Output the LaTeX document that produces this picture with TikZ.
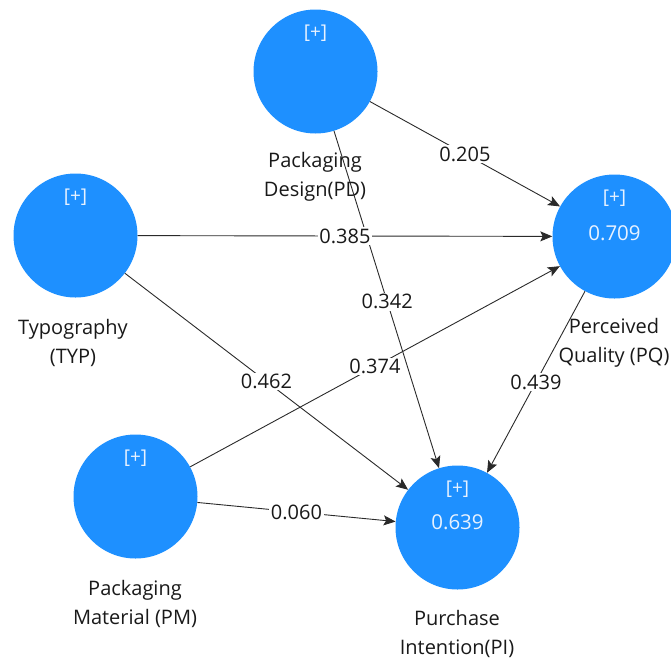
\documentclass[tikz,border=0pt]{standalone}
\usepackage{fontspec}
\setmainfont{Open Sans}
\usetikzlibrary{calc,arrows.meta}
\definecolor{lvblue}{HTML}{1E90FF}
\definecolor{edgec}{HTML}{2A2A2A}
\definecolor{innertxt}{HTML}{E8F2FF}
\begin{document}
\begin{tikzpicture}[x=1pt,y=-1pt,
  lv/.style={circle,fill=lvblue,minimum size=124pt,inner sep=0pt},
  plusmark/.style={text=innertxt,font=\fontsize{19}{22}\selectfont,inner sep=0pt},
  rsq/.style={text=innertxt,font=\fontsize{20.5}{24}\selectfont,inner sep=0pt},
  lvlabel/.style={align=center,text=black!90,font=\fontsize{20}{29.5}\selectfont,inner sep=0pt},
  relpath/.style={draw=edgec,line width=0.9pt,-{Stealth[length=12pt,width=10pt,inset=2.5pt]}},
  coef/.style={fill=white,text=black!90,font=\fontsize{20}{24}\selectfont,inner sep=1.5pt}]
\useasboundingbox (0,0) rectangle (671,659);
% latent variables
\node[lv] (PD) at (315.5,71.5) {};
\node[lv] (TYP) at (75.5,235.5) {};
\node[lv] (PM) at (135.5,496.5) {};
\node[lv] (PQ) at (614.5,236.5) {};
\node[lv] (PI) at (457.5,527.5) {};
% inner texts
\node[plusmark] (PDp) at ($(PD)+(0,-38)$) {[+]};
\node[plusmark] (TYPp) at ($(TYP)+(0,-38)$) {[+]};
\node[plusmark] (PMp) at ($(PM)+(0,-38)$) {[+]};
\node[plusmark] (PQp) at ($(PQ)+(0,-38)$) {[+]};
\node[plusmark] (PIp) at ($(PI)+(0,-38)$) {[+]};
\node[rsq] (PQr) at ($(PQ)+(0,-3.5)$) {0.709};
\node[rsq] (PIr) at ($(PI)+(0,-5)$) {0.639};
% names
\node[lvlabel] (PDn) at (315,177) {Packaging\\Design(PD)};
\node[lvlabel] (TYPn) at (73,343) {Typography\\(TYP)};
\node[lvlabel] (PMn) at (135,604) {Packaging\\Material (PM)};
\node[lvlabel] (PQn) at (614,343) {Perceived\\Quality (PQ)};
\node[lvlabel] (PIn) at (457,634) {Purchase\\Intention(PI)};
% paths
\draw[relpath] (PD) -- (PQ);
\draw[relpath] (PD) -- (PI);
\draw[relpath] (TYP) -- (PQ);
\draw[relpath] (TYP) -- (PI);
\draw[relpath] (PM) -- (PQ);
\draw[relpath] (PM) -- (PI);
\draw[relpath] (PQ) -- (PI);
% coefficients
\node[coef] (c1) at ($(PD)!0.5!(PQ)$) {0.205};
\node[coef] (c2) at ($(PD)!0.505!(PI)$) {0.342};
\node[coef] (c3) at ($(TYP)!0.5!(PQ)$) {0.385};
\node[coef] (c4) at ($(TYP)!0.5!(PI)$) {0.462};
\node[coef] (c5) at ($(PM)!0.5!(PQ)$) {0.374};
\node[coef] (c6) at ($(PM)!0.5!(PI)$) {0.060};
\node[coef] (c7) at ($(PQ)!0.5!(PI)$) {0.439};
\end{tikzpicture}
\end{document}
